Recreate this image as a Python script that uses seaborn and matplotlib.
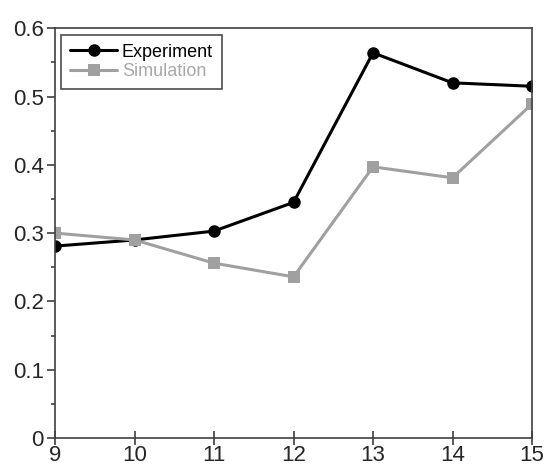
import matplotlib
matplotlib.use("Agg")
import matplotlib.pyplot as plt
from matplotlib.ticker import MultipleLocator
import seaborn as sns
import pandas as pd

x_values = [9, 10, 11, 12, 13, 14, 15]
experiment = [0.281, 0.290, 0.303, 0.345, 0.564, 0.520, 0.515]
simulation = [0.300, 0.290, 0.256, 0.236, 0.397, 0.381, 0.489]
series_names = ["Experiment", "Simulation"]

df = pd.DataFrame({
    "x": x_values * 2,
    "y": experiment + simulation,
    "series": [series_names[0]] * len(x_values) + [series_names[1]] * len(x_values),
})

sns.set_style("white")
plt.rcParams["font.family"] = ["Liberation Sans", "DejaVu Sans"]

fig = plt.figure(figsize=(5.51, 4.70), dpi=100)
ax = fig.add_axes([0.1, 0.068, 0.8655, 0.872])

palette = {"Experiment": "#000000", "Simulation": "#a0a0a0"}
sns.lineplot(data=df, x="x", y="y", hue="series", style="series",
             palette=palette, markers={"Experiment": "o", "Simulation": "s"},
             dashes=False, linewidth=2.2, markersize=9, markeredgewidth=0,
             ax=ax, legend=True)

ax.set_xlim(9, 15)
ax.set_ylim(0, 0.6)
ax.set_xticks(x_values)
ax.set_yticks([0, 0.1, 0.2, 0.3, 0.4, 0.5, 0.6])
ax.set_yticklabels(["0", "0.1", "0.2", "0.3", "0.4", "0.5", "0.6"])
ax.yaxis.set_minor_locator(MultipleLocator(0.05))
ax.set_xlabel("")
ax.set_ylabel("")

for s in ax.spines.values():
    s.set_color("#404040")
    s.set_linewidth(1.2)

ax.tick_params(axis="y", which="major", direction="out", length=6, width=1.2,
               color="#404040", labelsize=16, pad=2, left=True)
ax.tick_params(axis="y", which="minor", direction="out", length=3, width=1.2,
               color="#404040", left=True)
ax.tick_params(axis="x", which="major", direction="inout", length=10, width=1.2,
               color="#404040", labelsize=16, pad=0, bottom=True)

leg = ax.legend(loc="upper left", frameon=True, fontsize=13, handlelength=2.6,
                borderpad=0.5, labelspacing=0.15, handletextpad=0.25,
                borderaxespad=0.35, fancybox=False,
                bbox_to_anchor=(0.0, 1.0))
leg.get_frame().set_edgecolor("#202020")
leg.get_frame().set_linewidth(1.2)
for txt, name in zip(leg.get_texts(), series_names):
    txt.set_color("#000000" if name == "Experiment" else "#a8a8a8")

fig.savefig("out.png", dpi=100)
